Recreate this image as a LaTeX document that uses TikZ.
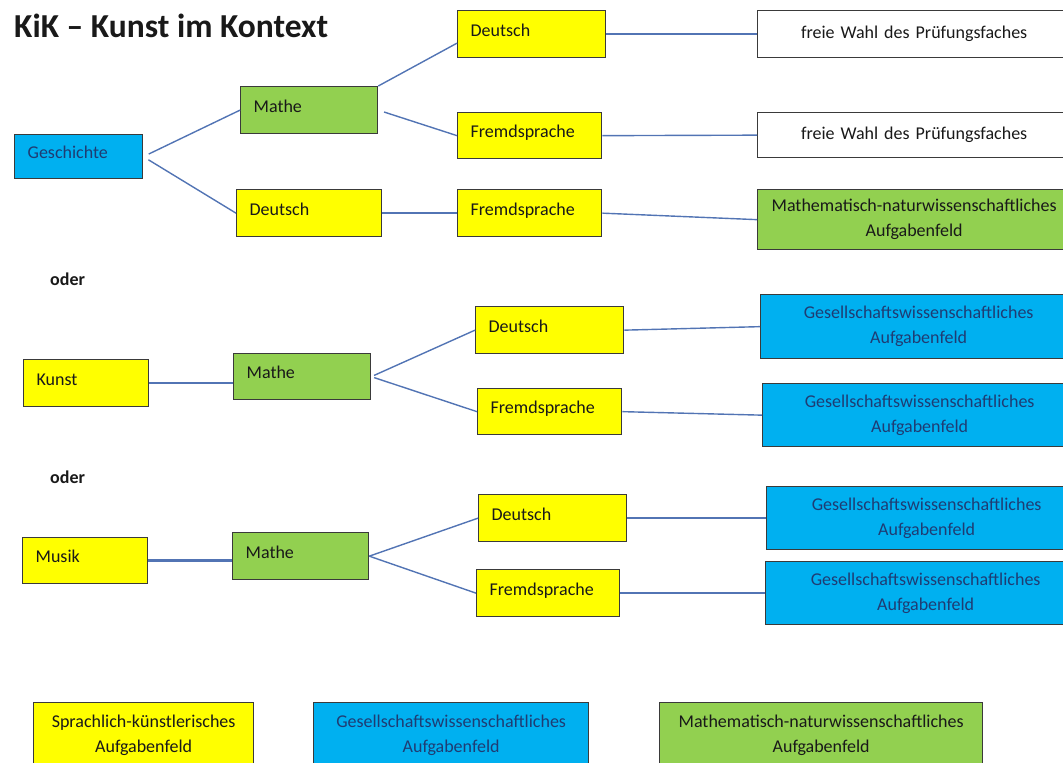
\documentclass[tikz,border=0pt]{standalone}
\usepackage{fontspec}
\setmainfont{Carlito}
\usepackage{tikz}
\usetikzlibrary{calc}
\definecolor{gelb}{HTML}{FFFF00}
\definecolor{gruen}{HTML}{92D050}
\definecolor{blau}{HTML}{00B0F0}
\definecolor{linie}{HTML}{5274B4}
\definecolor{rand}{HTML}{3A3A3A}
\definecolor{navy}{HTML}{1F3C73}

\begin{document}
\begin{tikzpicture}[x=1pt,y=-1pt,
		every node/.style={font=\fontsize{18}{25}\selectfont, text=black!90},
		fach/.style={draw=rand, line width=1.3pt, anchor=north west, inner xsep=13pt, inner ysep=0pt, align=left, text height=13pt, text depth=9pt},
		feld/.style={draw=rand, line width=1.3pt, anchor=north west, inner sep=0pt, align=center},
		sk/.style={fill=gelb},
		gw/.style={fill=blau, text=navy},
		mn/.style={fill=gruen},
		verb/.style={draw=linie, line width=1.4pt}]
		
		\useasboundingbox (0,0) rectangle (1063,763);
		
		\node[anchor=west, inner sep=0pt, font=\bfseries\fontsize{33.5}{38}\selectfont] (titel) at (14,26) {KiK -- Kunst im Kontext};
		
		\node[fach, gw, text width=102pt, minimum height=44pt] (gesch) at (14,134) {Geschichte};
		\node[fach, mn, text width=111pt, minimum height=47pt] (mathe1) at (240,86) {Mathe};
		\node[fach, sk, text width=119pt, minimum height=47pt] (deutsch2) at (236,189) {Deutsch};
		\node[fach, sk, text width=122pt, minimum height=47pt] (deutsch1) at (457,10) {Deutsch};
		\node[fach, sk, text width=118pt, minimum height=46pt] (fremd1) at (457,112) {Fremdsprache};
		\node[fach, sk, text width=118pt, minimum height=47pt] (fremd2) at (457,189) {Fremdsprache};
		\node[feld, fill=white, text width=313pt, minimum height=47pt] (wahl1) at (757,10) {freie Wahl des Prüfungsfaches};
		\node[feld, fill=white, text width=313pt, minimum height=45pt] (wahl2) at (757,112) {freie Wahl des Prüfungsfaches};
		\node[feld, mn, text width=313pt, minimum height=60pt] (matnat) at (757,189) {Mathematisch-naturwissenschaftliches\\Aufgabenfeld};
		
		\draw[verb, shorten <=6pt] (gesch.east) -- (mathe1.west);
		\draw[verb, shorten <=6pt] (gesch.east) -- (deutsch2.west);
		\draw[verb] (mathe1.north east) -- ([yshift=-9pt]deutsch1.west);
		\draw[verb, shorten <=6pt] (mathe1.east) -- (fremd1.west);
		\draw[verb] (deutsch2.east) -- (fremd2.west);
		\draw[verb] (deutsch1.east) -- (wahl1.west);
		\draw[verb] (fremd1.east) -- (wahl2.west);
		\draw[verb] (fremd2.east) -- (matnat.west);
		
		\node[anchor=west, inner sep=0pt, font=\bfseries\fontsize{18}{22}\selectfont] (oder1) at (50,279) {oder};
		
		\node[fach, sk, text width=99pt, minimum height=47pt] (kunst) at (23,359) {Kunst};
		\node[fach, mn, text width=111pt, minimum height=46pt] (mathe2) at (233,353) {Mathe};
		\node[fach, sk, text width=122pt, minimum height=47pt] (deutsch3) at (475,306) {Deutsch};
		\node[fach, sk, text width=118pt, minimum height=46pt] (fremd3) at (477,388) {Fremdsprache};
		\node[feld, gw, text width=316pt, minimum height=64pt] (gesell1) at (760,294) {Gesellschaftswissenschaftliches\\Aufgabenfeld};
		\node[feld, gw, text width=314pt, minimum height=63pt] (gesell2) at (762,383) {Gesellschaftswissenschaftliches\\Aufgabenfeld};
		
		\draw[verb] (kunst.east) -- (kunst.east -| mathe2.west);
		\draw[verb, shorten <=3pt] (mathe2.east) -- (deutsch3.west);
		\draw[verb, shorten <=3pt] (mathe2.east) -- (fremd3.west);
		\draw[verb] (deutsch3.east) -- (gesell1.west);
		\draw[verb] (fremd3.east) -- (gesell2.west);
		
		\node[anchor=west, inner sep=0pt, font=\bfseries\fontsize{18}{22}\selectfont] (oder2) at (50,477) {oder};
		
		\node[fach, sk, text width=99pt, minimum height=46pt] (musik) at (22,537) {Musik};
		\node[fach, mn, text width=110pt, minimum height=47pt] (mathe3) at (232,532) {Mathe};
		\node[fach, sk, text width=122pt, minimum height=47pt] (deutsch4) at (478,494) {Deutsch};
		\node[fach, sk, text width=117pt, minimum height=47pt] (fremd4) at (476,569) {Fremdsprache};
		\node[feld, gw, text width=320pt, minimum height=63pt] (gesell3) at (766,486) {Gesellschaftswissenschaftliches\\Aufgabenfeld};
		\node[feld, gw, text width=320pt, minimum height=63pt] (gesell4) at (765,561) {Gesellschaftswissenschaftliches\\Aufgabenfeld};
		
		\draw[verb, line width=2.4pt] (musik.east) -- (musik.east -| mathe3.west);
		\draw[verb] (mathe3.east) -- (deutsch4.west);
		\draw[verb] (mathe3.east) -- (fremd4.west);
		\draw[verb] (deutsch4.east) -- (gesell3.west);
		\draw[verb, line width=2pt] (fremd4.east) -- (gesell4.west);
		
		\node[feld, sk, text width=220pt, minimum height=65pt] (legsk) at (33,702) {Sprachlich-künstlerisches\\Aufgabenfeld};
		\node[feld, gw, text width=275pt, minimum height=65pt] (leggw) at (313,702) {Gesellschaftswissenschaftliches\\Aufgabenfeld};
		\node[feld, mn, text width=323pt, minimum height=65pt] (legmn) at (659,702) {Mathematisch-naturwissenschaftliches\\Aufgabenfeld};
		
	\end{tikzpicture}
\end{document}
